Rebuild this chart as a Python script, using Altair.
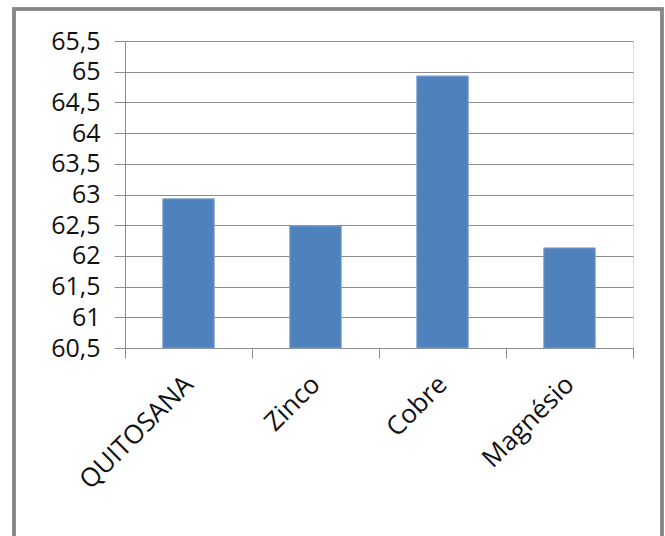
import altair as alt
import pandas as pd

categories = ["QUITOSANA", "Zinco", "Cobre", "Magnésio"]
values = [62.93, 62.49, 64.93, 62.13]
y_ticks = [60.5, 61, 61.5, 62, 62.5, 63, 63.5, 64, 64.5, 65, 65.5]

df = pd.DataFrame({"cat": categories, "val": values})

FONT = "Open Sans"
GRAY = "#8c8c8c"

base = alt.Chart(df)

bars = base.mark_bar(
    width=alt.RelativeBandSize(0.405),
    color="#4F81BD",
    stroke="#7fa2cf",
    strokeWidth=1,
).encode(
    x=alt.X(
        "cat:N",
        sort=categories,
        scale=alt.Scale(paddingInner=0, paddingOuter=0),
        axis=alt.Axis(
            title=None,
            labelAngle=-45,
            labelAlign="right",
            labelBaseline="middle",
            labelFont=FONT,
            labelFontSize=26,
            labelColor="#111111",
            labelPadding=22,
            tickBand="extent",
            tickSize=10,
            tickColor=GRAY,
            domainColor=GRAY,
            grid=False,
        ),
    ),
    y=alt.Y(
        "val:Q",
        scale=alt.Scale(domain=[60.5, 65.5], zero=False, nice=False),
        axis=alt.Axis(
            title=None,
            values=y_ticks,
            labelExpr="replace(toString(datum.value), '.', ',')",
            labelFont=FONT,
            labelFontSize=25,
            labelColor="#111111",
            labelPadding=14,
            tickSize=11,
            tickColor=GRAY,
            domainColor=GRAY,
            gridColor=GRAY,
            gridWidth=1,
            grid=True,
        ),
    ),
    y2=alt.datum(60.5),
)

border = alt.Chart(df).mark_rect(
    filled=False, stroke="#888888", strokeWidth=3
).encode(
    x=alt.value(-111),
    x2=alt.value(537),
    y=alt.value(-32),
    y2=alt.value(520),
)

chart = alt.layer(bars, border).properties(
    width=508,
    height=307,
    autosize=alt.AutoSizeParams(type="none"),
    padding={"left": 125, "top": 41, "right": 32, "bottom": 188},
).configure_view(stroke=None).configure(background="white")

chart.save("out.html", embed_options={"renderer": "svg", "actions": False})
